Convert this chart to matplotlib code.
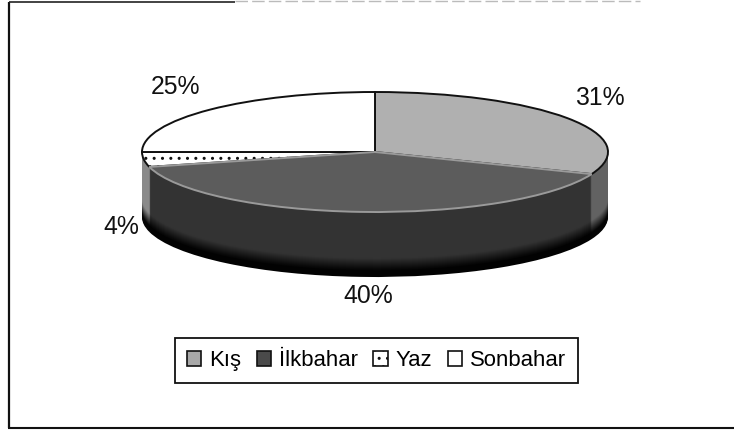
import matplotlib
matplotlib.use("Agg")
import matplotlib.pyplot as plt
from matplotlib.patches import Rectangle

plt.rcParams['font.family'] = ['Liberation Sans', 'DejaVu Sans']

categories = ['Kış', 'İlkbahar', 'Yaz', 'Sonbahar']
values = [31, 40, 4, 25]
labels = ['31%', '40%', '4%', '25%']

W, H = 734, 434
fig = plt.figure(figsize=(W / 100, H / 100), dpi=100, facecolor='white')

# frame: scan is cut along the top, so that edge fades out and the right edge is absent
bg = fig.add_axes([0, 0, 1, 1])
bg.set_xlim(0, W); bg.set_ylim(H, 0); bg.axis('off')
bg.plot([9, 9], [2, 428], color='#111111', lw=1.6, solid_capstyle='butt')
bg.plot([8, W], [428, 428], color='#111111', lw=1.5, solid_capstyle='butt')
bg.plot([9, 235], [1.5, 1.5], color='#222222', lw=1.2, solid_capstyle='butt')
bg.plot([235, 640], [0.8, 0.8], color='#bbbbbb', lw=1.0, ls=(0, (9, 3)), solid_capstyle='butt')

# pie axes: ellipse of semi-axes a, b in pixels
cx, cy, a, b = 375, 152, 233, 60
depth = 65
ax = fig.add_axes([(cx - a) / W, 1 - (cy + b + depth) / H, 2 * a / W, (2 * b + depth) / H])
ax.set_aspect('auto')
unit = 1 / b

side_top = ['#626262', '#333333', '#8a8a8a', '#ffffff']
top_cols = ['#b0b0b0', '#5c5c5c', '#ffffff', '#ffffff']

for d in range(depth, 0, -1):
    f = d / depth
    shade = 1 - max(0, (f - 0.72) / 0.2)
    shade = max(shade, 0.05)
    cols = []
    for c in side_top:
        v = int(c[1:3], 16) * shade
        cols.append('#%02x%02x%02x' % (int(v), int(v), int(v)))
    ax.pie(values, startangle=90, counterclock=False, colors=cols,
           center=(0, -d * unit), radius=1, frame=False,
           wedgeprops=dict(linewidth=0))

wedges, _ = ax.pie(values, startangle=90, counterclock=False, colors=top_cols,
                   center=(0, 0), radius=1, frame=False,
                   wedgeprops=dict(linewidth=1.4, edgecolor='#111111'))
wedges[2].set_hatch('..')
wedges[0].set_zorder(1)
wedges[2].set_zorder(1)
wedges[3].set_zorder(1)
wedges[1].set_edgecolor('#9a9a9a')
wedges[1].set_linewidth(1.4)
wedges[1].set_zorder(2)

ax.set_xlim(-1, 1)
ax.set_ylim(-1 - depth * unit, 1)
ax.set_aspect('auto')

label_xy = [(600, 98), (368, 296), (121, 227), (176, 87)]
for t, (x, y) in zip(labels, label_xy):
    bg.text(x, y, t, fontsize=17.8, ha='center', va='center', color='#111111')

handles = [Rectangle((0, 0), 1, 1, fc=c, ec='#111111', lw=1.2) for c in top_cols]
handles[0].set_facecolor('#a8a8a8')
handles[1].set_facecolor('#4a4a4a')
handles[2].set_hatch('..')
leg = fig.legend(handles, categories, loc='center', ncol=4,
                 bbox_to_anchor=(376.5 / W, 1 - 360.5 / H), fontsize=15.9,
                 frameon=True, fancybox=False, edgecolor='#111111', framealpha=1,
                 handlelength=0.65, handleheight=0.65, handletextpad=0.35,
                 columnspacing=0.71, borderpad=0.55, borderaxespad=0)
leg.get_frame().set_linewidth(1.3)

fig.savefig('out.png', dpi=100)
